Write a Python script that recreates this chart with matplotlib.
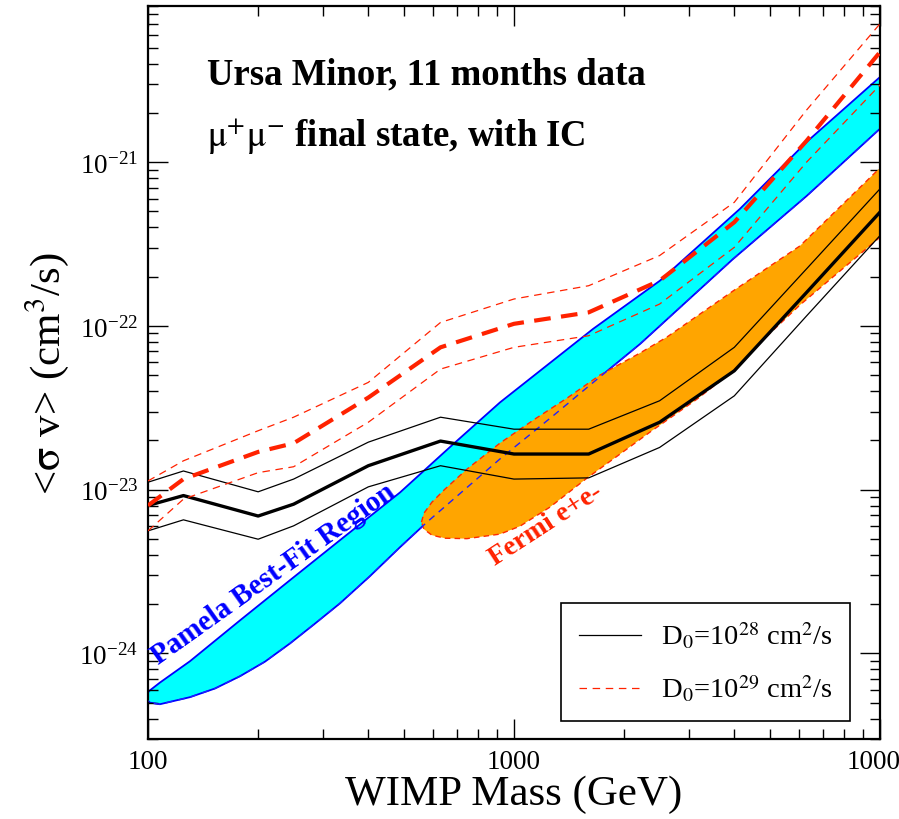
import numpy as np
import matplotlib.pyplot as plt
from matplotlib.ticker import FixedLocator, FixedFormatter, LogLocator, NullFormatter

plt.rcParams['font.family'] = 'Liberation Serif'
plt.rcParams['mathtext.fontset'] = 'stix'

# WIMP mass grid (GeV) and limits on <sigma v> (cm^3/s)
mass = [100, 125, 200, 250, 400, 630, 1000, 1600, 2500, 4000, 6300, 10000]
d28_mid = [8.0e-24, 9.2e-24, 6.9e-24, 8.15e-24, 1.40e-23, 1.98e-23, 1.65e-23, 1.65e-23, 2.58e-23, 5.32e-23, 1.60e-22, 4.95e-22]
d28_hi = [1.11e-23, 1.30e-23, 9.7e-24, 1.16e-23, 1.95e-23, 2.77e-23, 2.34e-23, 2.34e-23, 3.49e-23, 7.40e-23, 2.23e-22, 6.87e-22]
d28_lo = [5.6e-24, 6.54e-24, 4.98e-24, 6.01e-24, 1.04e-23, 1.40e-23, 1.16e-23, 1.18e-23, 1.81e-23, 3.74e-23, 1.15e-22, 3.56e-22]
d29_mid = [8.0e-24, 1.16e-23, 1.70e-23, 1.92e-23, 3.65e-23, 7.40e-23, 1.03e-22, 1.21e-22, 1.89e-22, 4.30e-22, 1.35e-21, 4.70e-21]
d29_hi = [1.13e-23, 1.50e-23, 2.29e-23, 2.77e-23, 4.52e-23, 1.05e-22, 1.46e-22, 1.76e-22, 2.69e-22, 5.69e-22, 2.08e-21, 7.0e-21]
d29_lo = [5.6e-24, 8.75e-24, 1.27e-23, 1.38e-23, 2.58e-23, 5.45e-23, 7.40e-23, 8.71e-23, 1.36e-22, 3.02e-22, 1.0e-21, 2.96e-21]

# Pamela best-fit region outline
pam_up_m = [96.9, 101.3, 107.8, 130.2, 178.4, 244.4, 334.6, 488.2, 668.6, 915.8, 1644, 2506, 4145, 6306, 9875, 12078]
pam_up_sv = [5.39e-25, 5.95e-25, 6.63e-25, 8.95e-25, 1.59e-24, 2.80e-24, 4.91e-24, 9.61e-24, 1.82e-23, 3.41e-23,
             9.58e-23, 1.89e-22, 5.19e-22, 1.33e-21, 3.23e-21, 4.79e-21]
pam_lo_m = [96.9, 101.3, 107.8, 130.2, 152.4, 178.4, 208.8, 244.4, 286.0, 334.6, 404.0, 488.2, 578.5, 915.8,
            1278, 1613, 2210, 3967, 6306, 9875, 12078]
pam_lo_sv = [5.39e-25, 5.00e-25, 4.89e-25, 5.40e-25, 6.10e-25, 7.25e-25, 8.90e-25, 1.15e-24, 1.52e-24, 2.02e-24,
             2.96e-24, 4.45e-24, 6.33e-24, 1.54e-23, 2.82e-23, 4.35e-23, 7.75e-23, 2.56e-22, 6.22e-22, 1.56e-21, 2.30e-21]

# Fermi e+e- region outline
fermi_up_m = [558.8, 567.6, 597, 647.8, 744, 915.8, 1141, 1396, 1718, 2210, 2618, 3967, 6045, 9875, 12078]
fermi_up_sv = [6.33e-24, 7.18e-24, 8.39e-24, 1.007e-23, 1.334e-23, 1.924e-23, 2.70e-23, 3.62e-23, 5.01e-23,
               6.83e-23, 8.55e-23, 1.634e-22, 3.08e-22, 8.97e-22, 1.388e-21]
fermi_lo_m = [558.8, 567.6, 597, 647.8, 744, 915.8, 1038.5, 1254, 1583, 1948, 2353, 3162, 3967, 4882, 6045, 7778, 9875, 12078]
fermi_lo_sv = [6.33e-24, 5.73e-24, 5.27e-24, 5.05e-24, 5.02e-24, 5.35e-24, 5.98e-24, 7.82e-24, 1.176e-23, 1.648e-23,
               2.246e-23, 3.57e-23, 5.30e-23, 8.55e-23, 1.342e-22, 2.165e-22, 3.40e-22, 4.70e-22]

fig = plt.figure(figsize=(8.99, 8.2), dpi=100)
ax = fig.add_axes([0.1646, 0.0976, 0.8142, 0.8939])
ax.set_xscale('log')
ax.set_yscale('log')

ax.fill(pam_up_m + pam_lo_m[::-1], pam_up_sv + pam_lo_sv[::-1], facecolor='#00ffff',
        edgecolor='#0000ff', lw=1.3, zorder=1)
ax.fill(fermi_up_m + fermi_lo_m[::-1], fermi_up_sv + fermi_lo_sv[::-1], facecolor='#ffa500',
        edgecolor='#ff2a00', lw=1.0, ls=(0, (4, 3)), zorder=2)
ax.plot(pam_lo_m, pam_lo_sv, color='#2020ff', lw=1.0, ls=(0, (5, 4)), zorder=3)

ax.plot(mass, d28_mid, color='black', lw=2.4, zorder=5)
ax.plot(mass, d28_hi, color='black', lw=0.9, zorder=5)
ax.plot(mass, d28_lo, color='black', lw=0.9, zorder=5)
ax.plot(mass, d29_mid, color='#ff2200', lw=3.0, ls=(0, (4, 2.5)), zorder=5)
ax.plot(mass, d29_hi, color='#ff2200', lw=0.9, ls=(0, (6, 4.5)), zorder=5)
ax.plot(mass, d29_lo, color='#ff2200', lw=0.9, ls=(0, (6, 4.5)), zorder=5)

ax.set_xlim(100, 10000)
ax.set_ylim(3e-25, 9e-21)

ax.xaxis.set_major_locator(FixedLocator([100, 1000, 10000]))
ax.xaxis.set_major_formatter(FixedFormatter(['100', '1000', '10000']))
ax.xaxis.set_minor_locator(LogLocator(base=10, subs=np.arange(2, 10)))
ax.xaxis.set_minor_formatter(NullFormatter())
ax.yaxis.set_major_locator(LogLocator(base=10, numticks=10))
ax.yaxis.set_minor_locator(LogLocator(base=10, subs=np.arange(2, 10), numticks=10))
ax.yaxis.set_minor_formatter(NullFormatter())

ax.tick_params(which='both', direction='in', top=True, right=True, width=1.0, labelsize=19.5)
ax.tick_params(which='major', length=14.5)
ax.tick_params(which='minor', length=7.5)
ax.tick_params(axis='x', pad=7)
ax.tick_params(axis='y', pad=7)
for s in ax.spines.values():
    s.set_linewidth(1.6)

ax.set_xlabel('WIMP Mass (GeV)', fontsize=31)
ax.xaxis.set_label_coords(0.5, -0.049)
ax.set_ylabel(r'<$\mathrm{\sigma}$ v> (cm$^3$/s)', fontsize=31)
ax.yaxis.set_label_coords(-0.105, 0.5)

ax.text(0.0806, 0.8936, 'Ursa Minor, 11 months data', transform=ax.transAxes,
        fontsize=26.5, fontweight='bold', va='baseline')
ax.text(0.0806, 0.8094, r'$\mathrm{\mu}^{+}\mathrm{\mu}^{-}$ final state, with IC', transform=ax.transAxes,
        fontsize=26.5, fontweight='bold', va='baseline')
ax.text(0.1708, 0.2265, 'Pamela Best-Fit Region', transform=ax.transAxes, color='#0000ff',
        fontsize=21, fontweight='bold', rotation=35.4, rotation_mode='anchor',
        ha='center', va='center', zorder=6)
ax.text(0.5437, 0.2926, 'Fermi e+e-', transform=ax.transAxes, color='#ff2200',
        fontsize=20, fontweight='bold', rotation=33, rotation_mode='anchor',
        ha='center', va='center', zorder=6)

h1, = ax.plot([], [], color='black', lw=0.9)
h2, = ax.plot([], [], color='#ff2200', lw=0.9, ls=(0, (6, 4.5)))
leg = ax.legend([h1, h2], [r'D$_0$=10$^{28}$ cm$^2$/s', r'D$_0$=10$^{29}$ cm$^2$/s'],
                loc='lower right', bbox_to_anchor=(0.959, 0.0246), fontsize=20.5,
                fancybox=False, framealpha=1, edgecolor='black', handlelength=2.2,
                handletextpad=0.7, labelspacing=0.8, borderpad=0.6, borderaxespad=0)
leg.get_frame().set_linewidth(1.2)

fig.savefig('out.png', dpi=100)
